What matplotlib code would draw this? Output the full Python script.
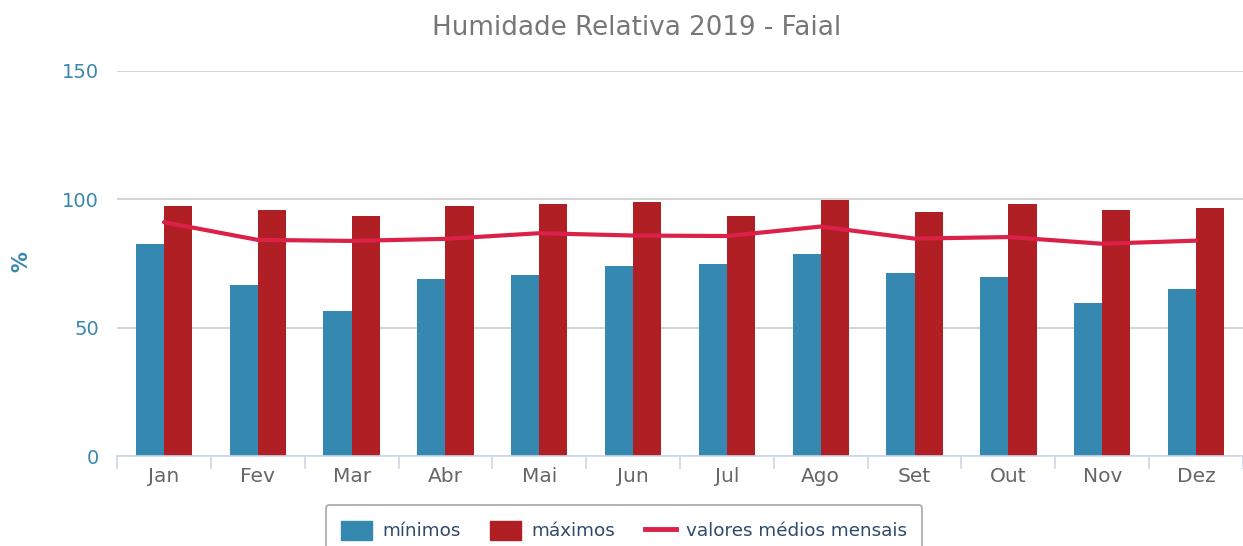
import numpy as np
import matplotlib.pyplot as plt
from matplotlib.patches import Patch
from matplotlib.lines import Line2D

months = ['Jan', 'Fev', 'Mar', 'Abr', 'Mai', 'Jun', 'Jul', 'Ago', 'Set', 'Out', 'Nov', 'Dez']
minimos = [82.6, 66.6, 56.5, 69.0, 70.5, 74.0, 74.8, 78.7, 71.3, 69.8, 59.6, 65.1]
maximos = [97.4, 95.9, 93.5, 97.4, 98.2, 99.0, 93.5, 99.8, 95.1, 98.2, 95.9, 96.6]
medios = [91.1, 84.2, 83.8, 84.6, 86.8, 85.9, 85.7, 89.4, 84.7, 85.3, 82.7, 83.9]

C_MIN = '#3588b0'
C_MAX = '#b01f24'
C_LINE = '#dc2149'
C_AXIS_TXT = '#3a87ad'

plt.rcParams['font.family'] = ['DejaVu Sans']

W, H = 1243, 546
fig = plt.figure(figsize=(W / 100, H / 100), dpi=100)
ax = fig.add_axes([117 / W, (H - 456) / H, (W - 117) / W, (456 - 71) / H])

x = np.arange(len(months))
bw = 0.3
ax.bar(x - bw / 2, minimos, width=bw, color=C_MIN, zorder=2)
ax.bar(x + bw / 2, maximos, width=bw, color=C_MAX, zorder=2)
ax.plot(x, medios, color=C_LINE, lw=3, zorder=3, solid_capstyle='round')

ax.set_xlim(-0.5, len(months) - 0.5)
ax.set_ylim(0, 150)
ax.set_yticks([0, 50, 100, 150])
ax.grid(axis='y', color='#cccccc', lw=1.2, zorder=0)
ax.set_axisbelow(True)

for s in ['top', 'right', 'left']:
    ax.spines[s].set_visible(False)
ax.spines['bottom'].set_color('#ccd6eb')
ax.spines['bottom'].set_linewidth(1.2)

ax.set_xticks(x)
ax.set_xticklabels(months)
ax.set_xticks(np.arange(-0.5, len(months) + 0.5, 1), minor=True)
ax.tick_params(axis='x', which='major', length=0, pad=8, labelsize=14.5, labelcolor='#666666')
ax.tick_params(axis='x', which='minor', length=9, width=1.2, color='#ccd6eb')
ax.tick_params(axis='y', length=0, pad=13, labelsize=14, labelcolor=C_AXIS_TXT)

ax.set_ylabel('%', color=C_AXIS_TXT, fontsize=15, fontweight='bold')
ax.yaxis.set_label_coords((31 - 117) / 1126, 0.504)

fig.text(637 / W, 1 - 28 / H, 'Humidade Relativa 2019 - Faial', ha='center', va='center',
         fontsize=18.8, color='#777777')

handles = [
    Patch(facecolor=C_MIN, edgecolor=C_MIN, label='mínimos'),
    Patch(facecolor=C_MAX, edgecolor=C_MAX, label='máximos'),
    Line2D([0], [0], color=C_LINE, lw=3.5, label='valores médios mensais'),
]
leg = fig.legend(handles=handles, loc='upper center', bbox_to_anchor=(624 / W, 1 - 505 / H),
                 ncol=3, frameon=True, fontsize=13.2, handlelength=1.7, handleheight=1.25,
                 columnspacing=1.6, handletextpad=0.55, borderpad=0.85, borderaxespad=0,
                 fancybox=True)
leg.get_frame().set_edgecolor('#999999')
leg.get_frame().set_linewidth(1.3)
for t in leg.get_texts():
    t.set_color('#2c4a6b')

fig.savefig('out.png', dpi=100)
